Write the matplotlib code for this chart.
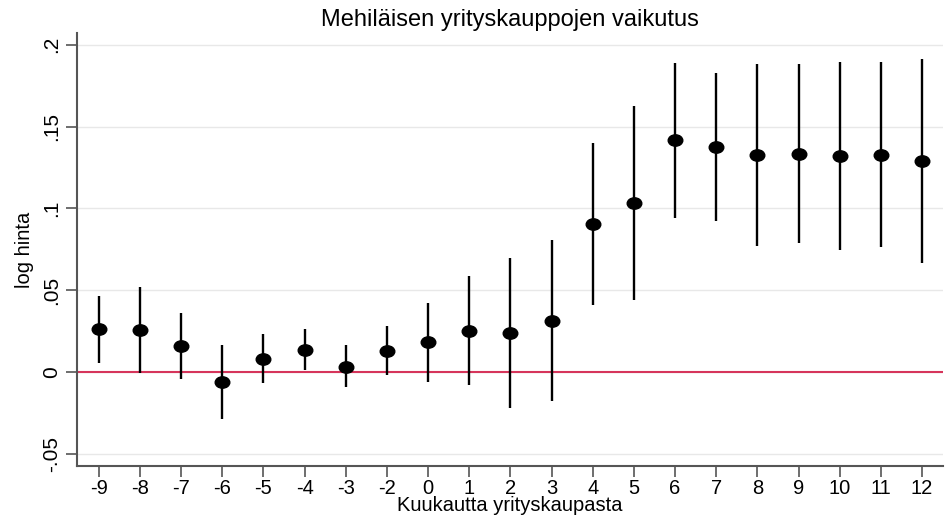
import matplotlib.pyplot as plt
import numpy as np
from matplotlib.path import Path

plt.rcParams['font.family'] = ['Liberation Sans', 'DejaVu Sans']

# kuukaudet yrityskaupasta (-1 puuttuu)
months = [-9, -8, -7, -6, -5, -4, -3, -2, 0, 1, 2, 3, 4, 5, 6, 7, 8, 9, 10, 11, 12]
coef = [0.026, 0.0257, 0.0159, -0.0061, 0.0081, 0.0134, 0.0033, 0.013, 0.0181, 0.0253,
        0.024, 0.0314, 0.0905, 0.1035, 0.1416, 0.1375, 0.1326, 0.1333, 0.1322, 0.1328, 0.1288]
ci_low = [0.0057, -0.0008, -0.0045, -0.029, -0.0069, 0.0012, -0.0094, -0.002, -0.0061, -0.0078,
          -0.0218, -0.0175, 0.0408, 0.0438, 0.094, 0.0925, 0.077, 0.0787, 0.0746, 0.0766, 0.0664]
ci_high = [0.0466, 0.052, 0.0363, 0.0167, 0.0234, 0.026, 0.0163, 0.0279, 0.0422, 0.0589,
           0.0697, 0.0807, 0.14, 0.1626, 0.189, 0.1826, 0.1883, 0.188, 0.1897, 0.1893, 0.1915]
yticks = [-0.05, 0, 0.05, 0.1, 0.15, 0.2]
yticklabels = ['-.05', '0', '.05', '.1', '.15', '.2']

pos = np.arange(len(months))

# hieman litistetty ympyrä merkiksi
circ = Path.unit_circle()
oval = Path(circ.vertices * [1.0, 0.78], circ.codes)

fig = plt.figure(figsize=(9.52, 5.19), dpi=100)
ax = fig.add_axes([77 / 952, 53 / 519, 866 / 952, 433 / 519])

for y in yticks:
    ax.axhline(y, color='#e8e8e8', lw=1, zorder=0)
ax.axhline(0, color='#d6355b', lw=1.5, zorder=1)

ax.vlines(pos, ci_low, ci_high, color='black', lw=1.7, zorder=2)
ax.plot(pos, coef, marker=oval, ls='none', color='black', ms=10.5, zorder=3)

ax.set_xlim(-0.53, 20.51)
ax.set_ylim(-0.0575, 0.2072)
ax.set_xticks(pos)
ax.set_xticklabels([str(m) for m in months], fontsize=14.5)
ax.set_yticks(yticks)
ax.set_yticklabels(yticklabels, fontsize=15, rotation=90, va='center')

for s in ['top', 'right']:
    ax.spines[s].set_visible(False)
for s in ['left', 'bottom']:
    ax.spines[s].set_color('#555555')
    ax.spines[s].set_linewidth(1.5)
ax.tick_params(direction='out', length=8, width=1.2, color='#555555')
ax.tick_params(axis='x', pad=1)

ax.set_title('Mehiläisen yrityskauppojen vaikutus', fontsize=17, pad=5)
ax.set_xlabel('Kuukautta yrityskaupasta', fontsize=14.5, labelpad=-1)
ax.set_ylabel('log hinta', fontsize=14.5, labelpad=6)

fig.savefig('out.png', dpi=100)
